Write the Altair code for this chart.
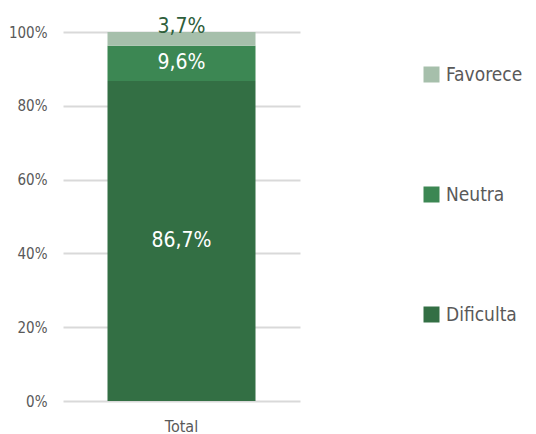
import altair as alt
import pandas as pd

categories = ["Dificulta", "Neutra", "Favorece"]
values = [86.7, 9.6, 3.7]
group = ["Total", "Total", "Total"]
stack_order = [1, 2, 3]
colors = ["#336f44", "#3c8753", "#a6bfab"]
legend_order = ["Favorece", "Neutra", "Dificulta"]

df = pd.DataFrame({"cat": categories, "value": values, "grp": group, "ord": stack_order})

FONT = "Liberation Sans Narrow, DejaVu Sans Condensed, sans-serif"

base = alt.Chart(df)

bars = base.mark_bar(size=148).encode(
    x=alt.X("grp:N", title=None,
            axis=alt.Axis(labelAngle=0, domain=False, ticks=False, labelPadding=17,
                          labelFontSize=16, labelColor="#595959", labelFont=FONT)),
    y=alt.Y("value:Q", stack="zero", title=None,
            scale=alt.Scale(domain=[0, 100]),
            axis=alt.Axis(values=[0, 20, 40, 60, 80, 100], labelExpr="datum.value + '%'",
                          domain=False, ticks=False, labelPadding=16, labelFontSize=15,
                          labelColor="#595959", labelFont=FONT, gridColor="#d9d9d9",
                          gridWidth=2)),
    color=alt.Color("cat:N", scale=alt.Scale(domain=categories, range=colors),
                    legend=alt.Legend(title=None, orient="none", legendX=359, legendY=33,
                                      values=legend_order, symbolType="square",
                                      symbolSize=256, symbolStrokeWidth=0,
                                      labelFontSize=19, labelFont=FONT, labelColor="#595959",
                                      labelOffset=5, rowPadding=100, padding=0)),
    order=alt.Order("ord:Q"),
)

stacked = base.transform_stack(
    stack="value", groupby=["grp"], as_=["y0", "y1"], sort=[alt.SortField("ord")]
).transform_calculate(
    mid="(datum.y0 + datum.y1) / 2",
    label="replace(format(datum.value, '.1f'), '.', ',') + '%'",
)

inner = stacked.transform_filter("datum.cat != 'Favorece'").mark_text(
    font=FONT, fontSize=21, color="white", baseline="middle"
).encode(x="grp:N", y=alt.Y("mid:Q"), text="label:N")

top = stacked.transform_filter("datum.cat == 'Favorece'").mark_text(
    font=FONT, fontSize=21, color="#2e5e3b", baseline="alphabetic", dy=1
).encode(x="grp:N", y=alt.Y("y1:Q"), text="label:N")

chart = alt.layer(bars, inner, top).properties(
    width=237, height=369,
    autosize=alt.AutoSizeParams(type="none"),
    padding={"left": 55, "top": 24, "right": 228, "bottom": 40},
).configure_view(stroke=None)

chart.save("out.html", embed_options={"renderer": "svg", "actions": False})
